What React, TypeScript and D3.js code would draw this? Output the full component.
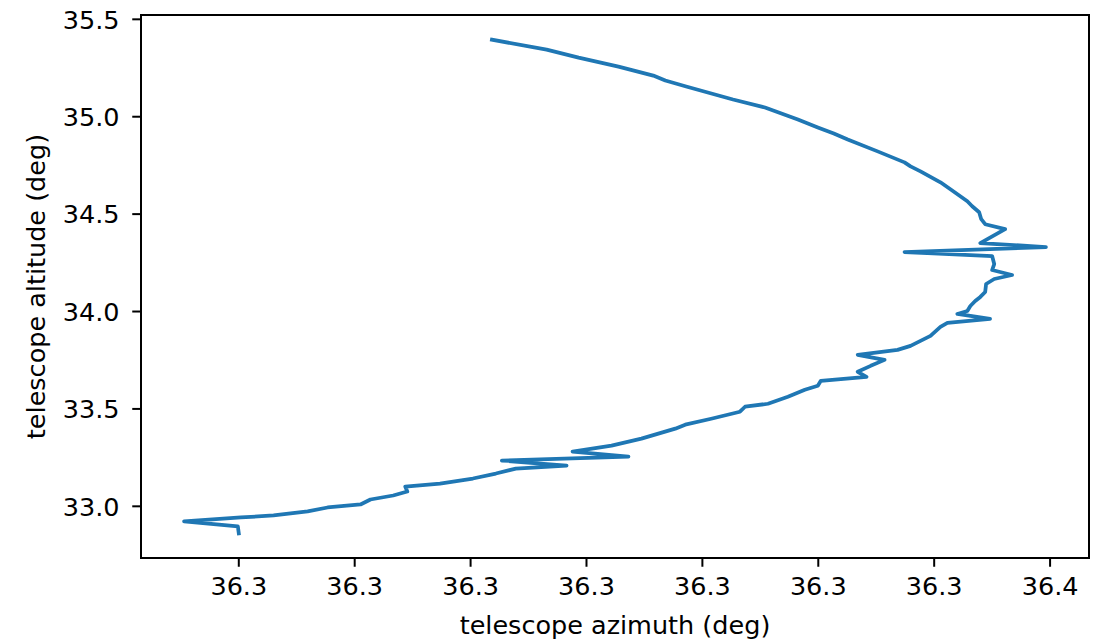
import React from 'react';
import { scaleLinear, line, extent } from 'd3';

// telescope pointing track
const azimuth: number[] = [
  36.32592, 36.32828, 36.32966, 36.33138, 36.33288, 36.3334, 36.3343, 36.33632, 36.3377, 36.33912,
  36.33998, 36.34067, 36.34127, 36.34256, 36.34372, 36.34398, 36.34441, 36.34527, 36.3457, 36.34643,
  36.34664, 36.34694, 36.34703, 36.3472, 36.34806, 36.34699, 36.34982, 36.34372, 36.3475, 36.34759,
  36.3475, 36.34836, 36.34759, 36.34724, 36.3472, 36.34699, 36.34677, 36.34656, 36.34643, 36.346,
  36.34741, 36.34557, 36.34527, 36.34484, 36.34441, 36.34398, 36.34342, 36.3417, 36.34286, 36.34226,
  36.3417, 36.34208, 36.34011, 36.33998, 36.33942, 36.33869, 36.33783, 36.33684, 36.33662, 36.33538,
  36.33426, 36.33383, 36.33237, 36.33108, 36.3294, 36.33181, 36.32635, 36.32914, 36.32695, 36.32609,
  36.3251, 36.32368, 36.32218, 36.32227, 36.32166, 36.32068, 36.32025, 36.31883, 36.31797, 36.3165,
  36.31509, 36.31264, 36.31496, 36.315,
];

const altitude: number[] = [
  35.3955, 35.3443, 35.3034, 35.2573, 35.2112, 35.1856, 35.1549, 35.0883, 35.0474, 34.9859,
  34.945, 34.9142, 34.8835, 34.8221, 34.7657, 34.7453, 34.7197, 34.6633, 34.6275, 34.566,
  34.5405, 34.5097, 34.4739, 34.4483, 34.4227, 34.3514, 34.3309, 34.3053, 34.2848, 34.2438,
  34.2131, 34.1875, 34.167, 34.1414, 34.1005, 34.0749, 34.054, 34.0284, 34.0028, 33.9875,
  33.9619, 33.9414, 33.9209, 33.8748, 33.8493, 33.8237, 33.8032, 33.7776, 33.7519, 33.7212,
  33.6905, 33.6649, 33.6444, 33.6188, 33.5983, 33.5625, 33.5266, 33.5113, 33.4857, 33.4498,
  33.4191, 33.3986, 33.3474, 33.3116, 33.2809, 33.2553, 33.2348, 33.2092, 33.1938, 33.1682,
  33.1426, 33.117, 33.1017, 33.0761, 33.0556, 33.0351, 33.0095, 32.9941, 32.9736, 32.9532,
  32.9429, 32.9224, 32.8968, 32.8614,
];

const xTicks = [36.315, 36.32, 36.325, 36.33, 36.335, 36.34, 36.345, 36.35];
const xTickLabels = ['36.3', '36.3', '36.3', '36.3', '36.3', '36.3', '36.3', '36.4'];
const yTicks = [33.0, 33.5, 34.0, 34.5, 35.0, 35.5];
const yTickLabels = ['33.0', '33.5', '34.0', '34.5', '35.0', '35.5'];

const W = 1094;
const H = 642;
const margin = { top: 15, right: 5, bottom: 84, left: 141 };
const innerW = W - margin.left - margin.right;
const innerH = H - margin.top - margin.bottom;
const fontSize = 25.5;
const tickLen = 8.75;
const tickPad = 8.75;

// matplotlib-like 5% margins around the data
const pad = (e: [number, number]): [number, number] => {
  const r = e[1] - e[0];
  return [e[0] - r * 0.05, e[1] + r * 0.05];
};

export default function App() {
  const xScale = scaleLinear()
    .domain(pad(extent(azimuth) as [number, number]))
    .range([0, innerW]);
  const yScale = scaleLinear()
    .domain(pad(extent(altitude) as [number, number]))
    .range([innerH, 0]);

  const pts: [number, number][] = azimuth.map((a, i) => [a, altitude[i]]);
  const path = line<[number, number]>()
    .x(d => xScale(d[0]))
    .y(d => yScale(d[1]))(pts);

  const font = 'DejaVu Sans, sans-serif';

  return (
    <svg
      width={W}
      height={H}
      style={{ position: 'absolute', left: 0, top: 0, background: '#fff' }}
      fontFamily={font}
    >
      <rect width={W} height={H} fill='#fff' />
      <g transform={`translate(${margin.left},${margin.top})`}>
        <path
          d={path || ''}
          fill='none'
          stroke='#1f77b4'
          strokeWidth={3.75}
          strokeLinejoin='round'
          strokeLinecap='square'
        />

        {/* x axis ticks */}
        {xTicks.map((t, i) => (
          <g key={'x' + i} transform={`translate(${xScale(t)},${innerH})`}>
            <line y1={0} y2={tickLen} stroke='#000' strokeWidth={2} />
            <text
              y={tickLen + tickPad + fontSize * 0.78}
              textAnchor='middle'
              fontSize={fontSize}
              fill='#000'
            >
              {xTickLabels[i]}
            </text>
          </g>
        ))}

        {/* y axis ticks */}
        {yTicks.map((t, i) => (
          <g key={'y' + i} transform={`translate(0,${yScale(t)})`}>
            <line x1={0} x2={-tickLen} stroke='#000' strokeWidth={2} />
            <text
              x={-tickLen - tickPad - 4}
              dy='0.36em'
              textAnchor='end'
              fontSize={fontSize}
              fill='#000'
            >
              {yTickLabels[i]}
            </text>
          </g>
        ))}

        <rect
          width={innerW}
          height={innerH}
          fill='none'
          stroke='#000'
          strokeWidth={2}
        />

        <text
          x={innerW / 2}
          y={innerH + 76}
          textAnchor='middle'
          fontSize={fontSize}
          fill='#000'
        >
          telescope azimuth (deg)
        </text>
        <text
          transform={`translate(${-96},${innerH / 2}) rotate(-90)`}
          textAnchor='middle'
          fontSize={fontSize}
          fill='#000'
        >
          telescope altitude (deg)
        </text>
      </g>
    </svg>
  );
}
